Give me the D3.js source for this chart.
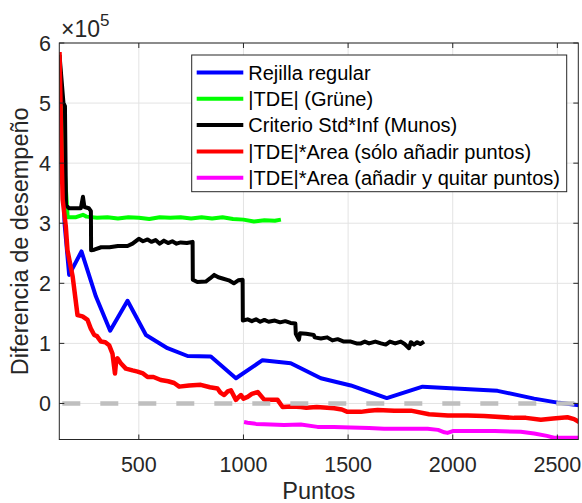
<!DOCTYPE html>
<html lang="es">
<head>
<meta charset="UTF-8">
<title>Diferencia de desempeño</title>
<style>
  body { margin: 0; background: #fff; }
  svg { display: block; font-family: "Liberation Sans", Arial, Helvetica, sans-serif; }
</style>
</head>
<body>
<script src="https://cdn.jsdelivr.net/npm/d3@7"></script>
<script>
// values in units of 1e5
var rejillaX = [121, 145, 167, 226, 295, 363, 446, 534, 637, 733, 844, 964, 1091, 1226, 1370, 1513, 1685, 1856, 2214, 2389, 2508, 2604];
var rejillaY = [5.75, 3.0, 2.14, 2.53, 1.78, 1.21, 1.71, 1.14, 0.92, 0.79, 0.78, 0.42, 0.72, 0.67, 0.42, 0.30, 0.09, 0.28, 0.21, 0.08, 0.01, -0.03];

var gruneX = [121, 140, 160, 200, 233, 250, 300, 350, 400, 450, 500, 550, 600, 650, 700, 750, 800, 850, 900, 950, 1000, 1050, 1100, 1150, 1179];
var gruneY = [5.8, 4.2, 3.10, 3.10, 3.14, 3.11, 3.09, 3.10, 3.08, 3.10, 3.09, 3.07, 3.10, 3.09, 3.10, 3.08, 3.10, 3.08, 3.10, 3.07, 3.06, 3.03, 3.05, 3.04, 3.06];

var munosX = [121, 140, 147, 152, 166, 200, 223, 233, 240, 261, 271, 272, 287, 320, 360, 400, 446, 470, 500, 520, 542, 560, 580, 600, 620, 640, 660, 680, 700, 730, 757, 758, 780, 820, 840, 860, 880, 900, 930, 954, 975, 996, 997, 1020, 1040, 1060, 1080, 1100, 1120, 1150, 1175, 1200, 1225, 1248, 1250, 1265, 1270, 1300, 1336, 1340, 1370, 1400, 1425, 1450, 1480, 1513, 1540, 1561, 1580, 1600, 1630, 1657, 1680, 1700, 1725, 1752, 1770, 1791, 1800, 1815, 1830, 1845, 1863];
var munosY = [5.8, 5.0, 4.95, 3.3, 3.25, 3.25, 3.25, 3.44, 3.27, 3.25, 3.2, 2.55, 2.56, 2.6, 2.6, 2.62, 2.62, 2.66, 2.74, 2.70, 2.73, 2.69, 2.72, 2.66, 2.71, 2.67, 2.70, 2.66, 2.68, 2.67, 2.69, 2.06, 2.02, 2.03, 2.08, 2.14, 2.10, 2.08, 2.05, 2.0, 2.05, 2.06, 1.38, 1.40, 1.37, 1.40, 1.36, 1.39, 1.36, 1.38, 1.35, 1.37, 1.34, 1.33, 1.16, 1.06, 1.17, 1.16, 1.14, 1.10, 1.08, 1.10, 1.05, 1.07, 1.03, 1.03, 1.0, 1.0, 1.03, 1.0, 1.03, 1.0, 0.98, 1.03, 1.0, 1.03, 0.99, 0.92, 1.02, 0.98, 1.02, 0.99, 1.03];

var soloX = [121, 128, 136, 151, 159, 184, 207, 231, 255, 270, 287, 300, 319, 340, 358, 374, 386, 392, 398, 414, 438, 470, 494, 520, 542, 570, 605, 640, 669, 693, 740, 796, 840, 876, 890, 908, 925, 940, 964, 975, 988, 1000, 1020, 1040, 1068, 1100, 1163, 1187, 1230, 1274, 1300, 1350, 1433, 1470, 1497, 1561, 1600, 1641, 1721, 1800, 1887, 1977, 2071, 2150, 2293, 2350, 2421, 2480, 2548, 2580, 2604];
var soloY = [5.85, 4.6, 3.4, 2.95, 2.55, 2.11, 1.47, 1.45, 1.39, 1.25, 1.14, 1.12, 1.03, 1.02, 0.97, 0.83, 0.5, 0.72, 0.75, 0.67, 0.58, 0.55, 0.53, 0.50, 0.44, 0.44, 0.39, 0.37, 0.34, 0.28, 0.30, 0.31, 0.27, 0.25, 0.18, 0.14, 0.20, 0.22, 0.06, 0.10, 0.14, 0.08, 0.11, 0.16, 0.19, 0.06, 0.06, -0.06, -0.05, -0.06, -0.07, -0.06, -0.08, -0.10, -0.14, -0.14, -0.12, -0.11, -0.12, -0.12, -0.18, -0.2, -0.2, -0.21, -0.24, -0.24, -0.27, -0.25, -0.23, -0.26, -0.31];

var quitarX = [1003, 1020, 1060, 1099, 1194, 1274, 1354, 1433, 1513, 1600, 1672, 1800, 1880, 1930, 1960, 1975, 2000, 2071, 2200, 2325, 2389, 2450, 2484, 2604];
var quitarY = [-0.31, -0.32, -0.34, -0.345, -0.36, -0.35, -0.39, -0.39, -0.40, -0.41, -0.42, -0.42, -0.42, -0.44, -0.48, -0.49, -0.46, -0.46, -0.46, -0.47, -0.5, -0.54, -0.57, -0.57];

var seriesNames = ['Rejilla regular', '|TDE| (Grüne)', 'Criterio Std*Inf (Munos)', '|TDE|*Area (sólo añadir puntos)', '|TDE|*Area (añadir y quitar puntos)'];
var seriesColors = ['#0000ff', '#00ff00', '#000000', '#ff0000', '#ff00ff'];
var xTicks = [500, 1000, 1500, 2000, 2500];
var yTicks = [0, 1, 2, 3, 4, 5, 6];

var width = 582, height = 503;
var pL = 59.3, pT = 43, pR = 578.3, pB = 439.5;

var x = d3.scaleLinear().domain([120, 2600]).range([pL, pR]);
var y = d3.scaleLinear().domain([-0.6, 6]).range([pB, pT]);

var svg = d3.select('body').append('svg')
    .attr('width', width)
    .attr('height', height);

svg.append('defs').append('clipPath').attr('id', 'clip')
    .append('rect')
    .attr('x', pL).attr('y', pT)
    .attr('width', pR - pL).attr('height', pB - pT);

// grid
svg.append('g').selectAll('line').data(xTicks).enter().append('line')
    .attr('x1', d => x(d)).attr('x2', d => x(d))
    .attr('y1', pT).attr('y2', pB)
    .attr('stroke', '#e3e3e3').attr('stroke-width', 1);
svg.append('g').selectAll('line').data(yTicks).enter().append('line')
    .attr('x1', pL).attr('x2', pR)
    .attr('y1', d => y(d)).attr('y2', d => y(d))
    .attr('stroke', '#e3e3e3').attr('stroke-width', 1);

var line = d3.line().x(d => x(d[0])).y(d => y(d[1]));
var plot = svg.append('g').attr('clip-path', 'url(#clip)');

var series = [
    [rejillaX, rejillaY, 4],
    [gruneX, gruneY, 4],
    [munosX, munosY, 4],
    [soloX, soloY, 4.5],
    [quitarX, quitarY, 4]
];
series.forEach(function (s, i) {
    plot.append('path')
        .datum(d3.zip(s[0], s[1]))
        .attr('fill', 'none')
        .attr('stroke', seriesColors[i])
        .attr('stroke-width', s[2])
        .attr('stroke-linejoin', 'round')
        .attr('d', line);
});

// zero reference
plot.append('line')
    .attr('x1', pL).attr('x2', pR)
    .attr('y1', y(0)).attr('y2', y(0))
    .attr('stroke', '#bfbfbf')
    .attr('stroke-width', 4.5)
    .attr('stroke-dasharray', '18,20')
    .attr('stroke-dashoffset', -3);

// axes box and ticks
var ax = svg.append('g').attr('stroke', '#262626').attr('stroke-width', 1).attr('fill', 'none');
ax.append('rect').attr('x', pL).attr('y', pT).attr('width', pR - pL).attr('height', pB - pT);
xTicks.forEach(function (t) {
    ax.append('line').attr('x1', x(t)).attr('x2', x(t)).attr('y1', pB).attr('y2', pB - 5);
    ax.append('line').attr('x1', x(t)).attr('x2', x(t)).attr('y1', pT).attr('y2', pT + 5);
});
yTicks.forEach(function (t) {
    ax.append('line').attr('x1', pL).attr('x2', pL + 5).attr('y1', y(t)).attr('y2', y(t));
    ax.append('line').attr('x1', pR).attr('x2', pR - 5).attr('y1', y(t)).attr('y2', y(t));
});

svg.selectAll('.xt').data(xTicks).enter().append('text')
    .attr('x', d => x(d)).attr('y', 472)
    .attr('text-anchor', 'middle')
    .attr('font-size', 21.5).attr('fill', '#262626')
    .text(d => d);

svg.selectAll('.yt').data(yTicks).enter().append('text')
    .attr('x', 51).attr('y', d => y(d))
    .attr('dy', '0.36em')
    .attr('text-anchor', 'end')
    .attr('font-size', 21.5).attr('fill', '#262626')
    .text(d => d);

var ex = svg.append('text').attr('x', 61).attr('y', 37).attr('fill', '#262626').attr('font-size', 23);
ex.append('tspan').text('×10');
ex.append('tspan').attr('dy', -11).attr('font-size', 17).text('5');

svg.append('text')
    .attr('x', pL + (pR - pL) / 2).attr('y', 499)
    .attr('text-anchor', 'middle')
    .attr('font-size', 23.5).attr('fill', '#262626')
    .text('Puntos');

svg.append('text')
    .attr('transform', 'translate(28,' + (pT + (pB - pT) / 2) + ') rotate(-90)')
    .attr('text-anchor', 'middle')
    .attr('font-size', 23.5).attr('fill', '#262626')
    .text('Diferencia de desempeño');

// legend
var lg = svg.append('g');
lg.append('rect')
    .attr('x', 191.7).attr('y', 55)
    .attr('width', 375).attr('height', 136.7)
    .attr('fill', '#fff').attr('stroke', '#262626').attr('stroke-width', 1);
seriesNames.forEach(function (n, i) {
    var yy = 72.5 + i * 26.3;
    lg.append('line')
        .attr('x1', 196.7).attr('x2', 243.3)
        .attr('y1', yy).attr('y2', yy)
        .attr('stroke', seriesColors[i]).attr('stroke-width', 4);
    lg.append('text')
        .attr('x', 248.3).attr('y', yy).attr('dy', '0.36em')
        .attr('font-size', 20).attr('fill', '#000')
        .text(n);
});
</script>
</body>
</html>
